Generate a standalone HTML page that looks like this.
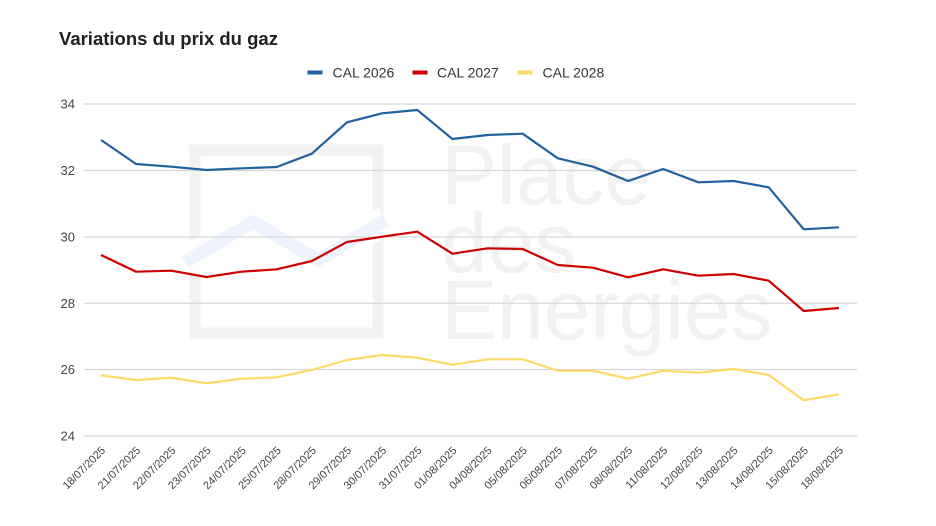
<!DOCTYPE html>
<html>
<head>
<meta charset="utf-8">
<style>
  html, body { margin: 0; padding: 0; background: #ffffff; }
  svg { display: block; }
  text { font-family: "Liberation Sans", Arial, sans-serif; }
</style>
</head>
<body>
<svg width="936" height="526" viewBox="0 0 936 526" xmlns="http://www.w3.org/2000/svg">
  <rect x="0" y="0" width="936" height="526" fill="#ffffff"/>

  <!-- Watermark -->
  <g>
    <rect x="195" y="150" width="183" height="183" fill="none" stroke="#f2f2f2" stroke-width="11"/>
    <polyline points="185,262 253,222 318,260 386,220" fill="none" stroke="#ffffff" stroke-width="30" stroke-linejoin="miter"/>
    <polyline points="185,262 253,222 318,260 386,220" fill="none" stroke="#edf4fd" stroke-width="13" stroke-linejoin="miter"/>
    <text x="441" y="204" font-size="84" fill="#f2f2f2">Place</text>
    <text x="441" y="272" font-size="84" fill="#f2f2f2">des</text>
    <text x="441" y="339" font-size="84" fill="#f2f2f2">Energies</text>
  </g>

  <!-- Title -->
  <text x="59" y="45" font-size="18.5" font-weight="bold" fill="#212121">Variations du prix du gaz</text>

  <!-- Legend -->
  <rect x="307.5" y="70.5" width="15" height="4" fill="#22619f"/>
  <text x="332.5" y="77.7" font-size="14" fill="#333333">CAL 2026</text>
  <rect x="412.5" y="70.5" width="15" height="4" fill="#cc0000"/>
  <text x="437" y="77.7" font-size="14" fill="#333333">CAL 2027</text>
  <rect x="517.5" y="70.5" width="15" height="4" fill="#ffd966"/>
  <text x="542.5" y="77.7" font-size="14" fill="#333333">CAL 2028</text>

  <!-- Gridlines -->
  <g stroke="#d6d6d6" stroke-width="1.2">
    <line x1="84" y1="104" x2="857" y2="104"/>
    <line x1="84" y1="170.5" x2="857" y2="170.5"/>
    <line x1="84" y1="237" x2="857" y2="237"/>
    <line x1="84" y1="303.3" x2="857" y2="303.3"/>
    <line x1="84" y1="369.5" x2="857" y2="369.5"/>
  </g>
  <line x1="84" y1="436" x2="857" y2="436" stroke="#dadada" stroke-width="1.6"/>

  <!-- Y labels -->
  <g font-size="13" fill="#444444" text-anchor="end">
    <text x="75" y="108.5">34</text>
    <text x="75" y="175">32</text>
    <text x="75" y="241.5">30</text>
    <text x="75" y="307.8">28</text>
    <text x="75" y="374">26</text>
    <text x="75" y="440.5">24</text>
  </g>

  <!-- Series -->
  <polyline fill="none" stroke="#ffd966" stroke-width="2.2" stroke-linejoin="round"
    points="101,375.3 136.1,380 171.3,377.7 206.4,383.3 241.6,378.7 276.7,377.3 311.8,370 347,360 382.1,355 417.3,357.7 452.4,364.7 487.5,359.3 522.7,359.3 557.8,370.7 593,370.7 628.1,378.7 663.2,370.7 698.4,372.7 733.5,369 768.7,375 803.8,400.3 838.9,394.3"/>
  <polyline fill="none" stroke="#cc0000" stroke-width="2.2" stroke-linejoin="round"
    points="101,255 136.1,271.7 171.3,270.7 206.4,277 241.6,271.7 276.7,269.3 311.8,261 347,242 382.1,236.7 417.3,231.7 452.4,253.7 487.5,248.3 522.7,249 557.8,265 593,267.7 628.1,277.3 663.2,269.3 698.4,275.7 733.5,274 768.7,280.7 803.8,311 838.9,308"/>
  <polyline fill="none" stroke="#22619f" stroke-width="2.2" stroke-linejoin="round"
    points="101,140 136.1,164 171.3,166.7 206.4,170 241.6,168.3 276.7,167 311.8,153.7 347,122.3 382.1,113.3 417.3,110 452.4,139 487.5,135 522.7,133.7 557.8,158.3 593,166.7 628.1,181 663.2,169 698.4,182.3 733.5,181 768.7,187.3 803.8,229.3 838.9,227.3"/>

  <!-- X labels -->
  <g font-size="11" fill="#444444" text-anchor="end">
    <text transform="translate(106,451) rotate(-45)">18/07/2025</text>
    <text transform="translate(141.1,451) rotate(-45)">21/07/2025</text>
    <text transform="translate(176.3,451) rotate(-45)">22/07/2025</text>
    <text transform="translate(211.4,451) rotate(-45)">23/07/2025</text>
    <text transform="translate(246.6,451) rotate(-45)">24/07/2025</text>
    <text transform="translate(281.7,451) rotate(-45)">25/07/2025</text>
    <text transform="translate(316.8,451) rotate(-45)">28/07/2025</text>
    <text transform="translate(352,451) rotate(-45)">29/07/2025</text>
    <text transform="translate(387.1,451) rotate(-45)">30/07/2025</text>
    <text transform="translate(422.3,451) rotate(-45)">31/07/2025</text>
    <text transform="translate(457.4,451) rotate(-45)">01/08/2025</text>
    <text transform="translate(492.5,451) rotate(-45)">04/08/2025</text>
    <text transform="translate(527.7,451) rotate(-45)">05/08/2025</text>
    <text transform="translate(562.8,451) rotate(-45)">06/08/2025</text>
    <text transform="translate(598,451) rotate(-45)">07/08/2025</text>
    <text transform="translate(633.1,451) rotate(-45)">08/08/2025</text>
    <text transform="translate(668.2,451) rotate(-45)">11/08/2025</text>
    <text transform="translate(703.4,451) rotate(-45)">12/08/2025</text>
    <text transform="translate(738.5,451) rotate(-45)">13/08/2025</text>
    <text transform="translate(773.7,451) rotate(-45)">14/08/2025</text>
    <text transform="translate(808.8,451) rotate(-45)">15/08/2025</text>
    <text transform="translate(843.9,451) rotate(-45)">18/08/2025</text>
  </g>
</svg>
</body>
</html>
